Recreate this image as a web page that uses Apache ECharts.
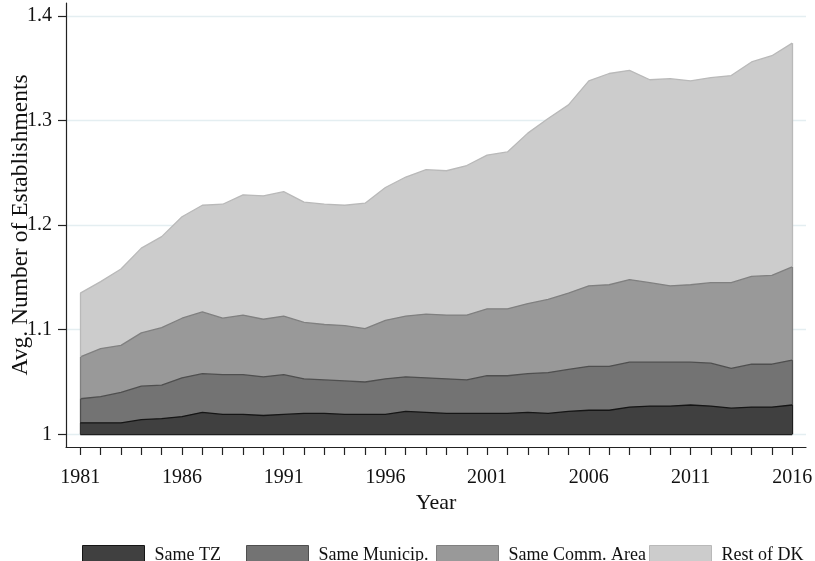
<!DOCTYPE html>
<html>
<head>
<meta charset="utf-8">
<script src="https://cdn.jsdelivr.net/npm/echarts@6/dist/echarts.min.js"></script>
<style>
  html, body { margin: 0; padding: 0; background: #ffffff; }
  #chart { width: 815px; height: 561px; }
</style>
</head>
<body>
<div id="chart"></div>
<script>
// Years on the horizontal axis
const years = [1981, 1982, 1983, 1984, 1985, 1986, 1987, 1988, 1989, 1990,
               1991, 1992, 1993, 1994, 1995, 1996, 1997, 1998, 1999, 2000,
               2001, 2002, 2003, 2004, 2005, 2006, 2007, 2008, 2009, 2010,
               2011, 2012, 2013, 2014, 2015, 2016];

// Cumulative levels (upper edge of each band), average establishments per firm
const levelSameTZ = [1.011, 1.011, 1.011, 1.014, 1.015, 1.017, 1.021, 1.019, 1.019, 1.018,
                     1.019, 1.020, 1.020, 1.019, 1.019, 1.019, 1.022, 1.021, 1.020, 1.020,
                     1.020, 1.020, 1.021, 1.020, 1.022, 1.023, 1.023, 1.026, 1.027, 1.027,
                     1.028, 1.027, 1.025, 1.026, 1.026, 1.028];
const levelSameMunicip = [1.034, 1.036, 1.040, 1.046, 1.047, 1.054, 1.058, 1.057, 1.057, 1.055,
                          1.057, 1.053, 1.052, 1.051, 1.050, 1.053, 1.055, 1.054, 1.053, 1.052,
                          1.056, 1.056, 1.058, 1.059, 1.062, 1.065, 1.065, 1.069, 1.069, 1.069,
                          1.069, 1.068, 1.063, 1.067, 1.067, 1.071];
const levelSameCommArea = [1.074, 1.082, 1.085, 1.097, 1.102, 1.111, 1.117, 1.111, 1.114, 1.110,
                           1.113, 1.107, 1.105, 1.104, 1.101, 1.109, 1.113, 1.115, 1.114, 1.114,
                           1.120, 1.120, 1.125, 1.129, 1.135, 1.142, 1.143, 1.148, 1.145, 1.142,
                           1.143, 1.145, 1.145, 1.151, 1.152, 1.160];
const levelRestOfDK = [1.135, 1.146, 1.158, 1.178, 1.189, 1.208, 1.219, 1.220, 1.229, 1.228,
                       1.232, 1.222, 1.220, 1.219, 1.221, 1.236, 1.246, 1.253, 1.252, 1.257,
                       1.267, 1.270, 1.288, 1.302, 1.315, 1.338, 1.345, 1.348, 1.339, 1.340,
                       1.338, 1.341, 1.343, 1.356, 1.362, 1.374];

// Tick positions and labels
const yTicks = [1, 1.1, 1.2, 1.3, 1.4];
const xLabelYears = [1981, 1986, 1991, 1996, 2001, 2006, 2011, 2016];

const seriesNames = ['Same TZ', 'Same Municip.', 'Same Comm. Area', 'Rest of DK'];

const FONT = '"Liberation Serif", "DejaVu Serif", serif';
const baseLevel = 1;

// Band definitions: fill, outline, upper level, lower level
const bands = [
  { name: 'Rest of DK',      fill: '#cccccc', edge: '#b9b9b9', upper: levelRestOfDK,     lower: levelSameCommArea },
  { name: 'Same Comm. Area', fill: '#999999', edge: '#808080', upper: levelSameCommArea, lower: levelSameMunicip },
  { name: 'Same Municip.',   fill: '#737373', edge: '#4f4f4f', upper: levelSameMunicip,  lower: levelSameTZ },
  { name: 'Same TZ',         fill: '#404040', edge: '#151515', upper: levelSameTZ,       lower: null }
];

const first = 0, last = years.length - 1;

const series = bands.map((b, i) => {
  const lowFirst = b.lower ? b.lower[first] : baseLevel;
  const lowLast = b.lower ? b.lower[last] : baseLevel;
  const edges = [
    [{ coord: [years[first], lowFirst] }, { coord: [years[first], b.upper[first]] }],
    [{ coord: [years[last], lowLast] }, { coord: [years[last], b.upper[last]] }]
  ];
  if (!b.lower) {
    edges.push([{ coord: [years[first], baseLevel] }, { coord: [years[last], baseLevel] }]);
  }
  return {
    name: b.name,
    type: 'line',
    z: 2 + i,
    data: years.map((y, k) => [y, b.upper[k]]),
    showSymbol: false,
    symbol: 'none',
    smooth: false,
    color: b.fill,
    lineStyle: { color: b.edge, width: 1.3 },
    areaStyle: { color: b.fill, opacity: 1, origin: baseLevel },
    itemStyle: { color: b.fill, borderColor: b.edge, borderWidth: 1 },
    animation: false,
    markLine: {
      silent: true,
      symbol: ['none', 'none'],
      label: { show: false },
      animation: false,
      lineStyle: { color: b.edge, width: 1.3, type: 'solid' },
      data: edges
    }
  };
});

// One legend per entry so each sits at its own place in the row
const legendLefts = [82, 246, 436, 649];
const legends = seriesNames.map((n, i) => ({
  data: [n],
  left: legendLefts[i],
  top: 545,
  padding: 0,
  orient: 'horizontal',
  itemWidth: 62,
  itemHeight: 20,
  itemGap: 0,
  selectedMode: false,
  icon: 'rect',
  itemStyle: { borderWidth: 1, borderColor: bands[3 - i].edge },
  textStyle: { fontFamily: FONT, fontSize: 18, color: '#111', padding: [2, 0, 0, 5] }
}));

const chart = echarts.init(document.getElementById('chart'), null, { renderer: 'canvas' });
chart.setOption({
  backgroundColor: '#ffffff',
  animation: false,
  legend: legends,
  grid: { left: 66, right: 9, top: 3, bottom: 114, containLabel: false, outerBoundsMode: 'none' },
  xAxis: {
    type: 'value',
    min: 1980.297,
    max: 2016.678,
    name: 'Year',
    nameLocation: 'middle',
    nameGap: 45,
    nameMoveOverlap: false,
    nameTextStyle: { fontFamily: FONT, fontSize: 22, color: '#111' },
    axisLine: { show: true, onZero: false, lineStyle: { color: '#222', width: 1.2 } },
    axisTick: { show: true, length: 8, customValues: years, lineStyle: { color: '#222', width: 1.2 } },
    axisLabel: {
      customValues: xLabelYears,
      margin: 21,
      fontFamily: FONT, fontSize: 20, color: '#111',
      formatter: v => String(v)
    },
    splitLine: { show: false }
  },
  yAxis: {
    type: 'value',
    min: 0.98786,
    max: 1.4124,
    name: 'Avg. Number of Establishments',
    nameLocation: 'middle',
    nameGap: 33,
    nameMoveOverlap: false,
    nameTextStyle: { fontFamily: FONT, fontSize: 23.5, color: '#111' },
    axisLine: { show: true, onZero: false, lineStyle: { color: '#222', width: 1.2 } },
    axisTick: { show: true, length: 8, customValues: yTicks, lineStyle: { color: '#222', width: 1.2 } },
    axisLabel: {
      customValues: yTicks,
      margin: 14,
      fontFamily: FONT, fontSize: 20, color: '#111',
      formatter: v => String(Math.round(v * 10) / 10)
    },
    splitLine: { show: true, lineStyle: { color: '#e4eef1', width: 1.3 } }
  },
  series: series
});
</script>
</body>
</html>
